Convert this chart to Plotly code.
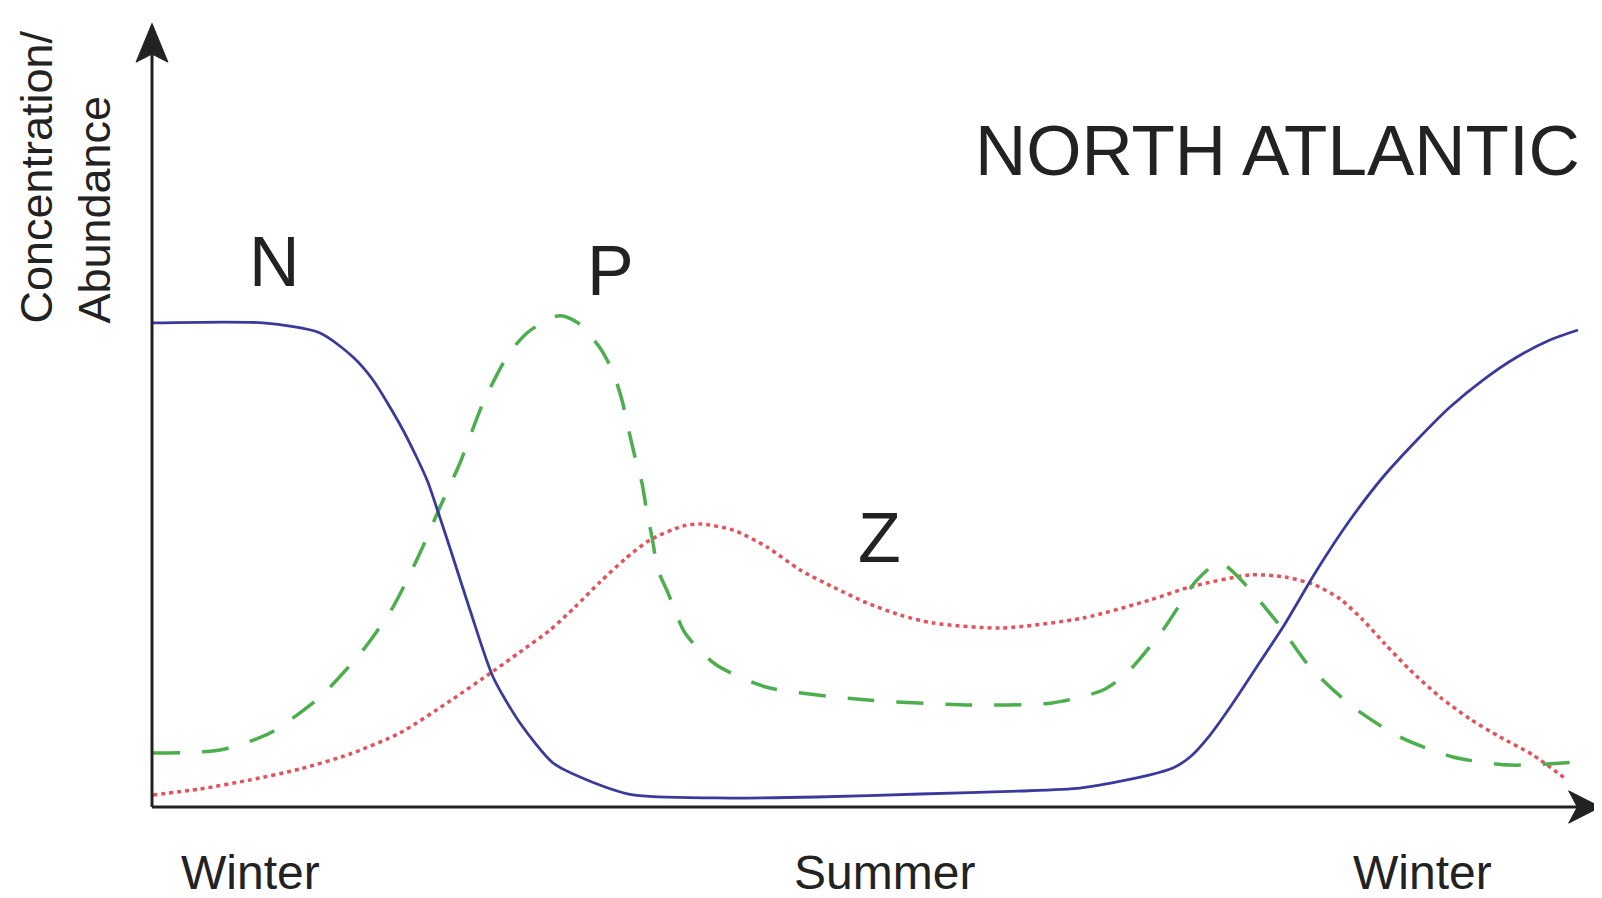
import plotly.graph_objects as go

# Time of year (0 = winter start, 100 = next winter), relative concentration/abundance
n_x = [0.07, 7.66, 11.59, 13.86, 15.24, 17.31, 18.97, 19.66, 20.55, 21.93, 23.52, 25.38, 27.66, 30.0,
       33.17, 38.83, 45.86, 52.97, 60.0, 64.0, 66.55, 68.83, 70.41, 71.59, 72.97, 74.55, 76.41, 78.0,
       80.34, 82.62, 84.9, 87.24, 89.52, 91.79, 94.14, 96.41, 98.34]
n_y = [59.98, 59.98, 58.74, 55.76, 52.91, 46.72, 40.52, 36.93, 32.09, 24.41, 16.11, 10.41, 5.45, 3.35,
       1.49, 1.12, 1.24, 1.61, 1.98, 2.35, 3.1, 3.97, 4.83, 6.2, 8.92, 12.89, 17.97, 22.3,
       29.37, 35.56, 40.89, 45.48, 49.57, 52.91, 55.76, 57.87, 59.11]

p_x = [0.07, 4.69, 8.14, 11.59, 14.55, 16.62, 18.48, 19.86, 21.24, 22.83, 24.55, 25.86, 27.66, 28.34,
       29.38, 30.9, 31.79, 32.41, 32.83, 33.31, 33.79, 34.14, 34.48, 34.9, 35.59, 36.76, 38.83, 42.34,
       49.38, 56.48, 62.07, 65.59, 67.24, 69.72, 72.07, 73.66, 77.31, 79.86, 82.83, 86.07, 89.72,
       93.66, 98.34]
p_y = [6.69, 7.06, 9.17, 13.63, 19.45, 24.78, 31.47, 37.17, 42.63, 50.06, 56.01, 58.74, 60.72, 60.84,
       59.98, 56.88, 53.9, 50.43, 47.09, 43.37, 40.15, 36.43, 33.46, 29.37, 26.52, 21.56, 17.72, 14.87,
       13.26, 12.64, 12.89, 14.5, 16.6, 21.93, 28.13, 30.24, 23.54, 17.35, 12.39, 8.67, 6.2,
       5.2, 5.58]

z_x = [0.07, 3.31, 6.76, 10.21, 13.66, 17.1, 20.55, 23.45, 25.38, 27.45, 29.17, 30.9, 32.62, 34.34,
       36.62, 37.79, 40.07, 42.41, 44.69, 46.97, 49.31, 51.59, 53.86, 58.55, 64.21, 68.83, 71.59, 75.72,
       78.14, 80.21, 81.93, 83.45, 85.03, 86.76, 88.83, 90.9, 92.97, 95.24, 97.59]
z_y = [1.49, 2.23, 3.35, 4.71, 6.57, 9.17, 13.14, 16.73, 19.21, 21.93, 24.78, 27.88, 30.73, 33.09,
       34.82, 35.07, 34.32, 32.22, 29.37, 27.26, 25.28, 23.79, 22.8, 22.18, 23.42, 25.65, 27.26, 28.75,
       28.5, 27.51, 25.77, 23.3, 20.2, 16.98, 13.63, 10.9, 8.67, 6.44, 3.35]

season_labels = ["Winter", "Summer", "Winter"]
season_pos = [0.0999, 0.5226, 0.8802]   # paper fraction

FONT = "Liberation Sans, Arial, Helvetica, sans-serif"
TXT = "#222222"

fig = go.Figure()
fig.add_trace(go.Scatter(x=z_x, y=z_y, mode="lines",
                         line=dict(color="#e5525c", width=3.5, dash="4px,4px", shape="spline", smoothing=0.7)))
fig.add_trace(go.Scatter(x=p_x, y=p_y, mode="lines",
                         line=dict(color="#4cae4c", width=3.5, dash="27px,22px", shape="spline", smoothing=0.7)))
fig.add_trace(go.Scatter(x=n_x, y=n_y, mode="lines",
                         line=dict(color="#3a3a9c", width=2.8, shape="spline", smoothing=0.7)))

# axes with arrows
shapes = [
    dict(type="line", xref="x", yref="y", x0=0, x1=98.5, y0=0, y1=0, line=dict(color=TXT, width=3)),
    dict(type="line", xref="x", yref="y", x0=0, x1=0, y0=0, y1=94, line=dict(color=TXT, width=3)),
    dict(type="path", xref="x", yref="y", fillcolor=TXT, line=dict(color=TXT, width=1),
         path="M 0,97.1 L 1.1,92.3 L 0,93.3 L -1.1,92.3 Z"),
    dict(type="path", xref="x", yref="y", fillcolor=TXT, line=dict(color=TXT, width=1),
         path="M 99.9,0 L 97.7,2.0 L 98.3,0 L 97.7,-2.0 Z"),
]

ann = [
    dict(x=8.48, y=67.5, text="N", font=dict(size=70)),
    dict(x=31.6, y=66.4, text="P", font=dict(size=70)),
    dict(x=50.2, y=33.3, text="Z", font=dict(size=70)),
    dict(x=98.65, y=81.3, text="NORTH ATLANTIC", xanchor="right", font=dict(size=71)),
]
for a in ann:
    a.update(xref="x", yref="y")
ann.append(dict(x=-0.0605, y=0.6294, xref="paper", yref="paper", text="Concentration/<br>Abundance",
                textangle=-90, xanchor="left", yanchor="bottom", align="left", font=dict(size=45)))
for lab, pos in zip(season_labels, season_pos):
    ann.append(dict(x=pos, y=-0.0075, xref="paper", yref="paper", text=lab, font=dict(size=48)))
for a in ann:
    a.setdefault("xanchor", "center")
    a.setdefault("yanchor", "middle")
    a["showarrow"] = False
    a["font"].update(family=FONT, color=TXT)

fig.update_layout(
    width=1594, height=890,
    margin=dict(l=92, r=0, t=0, b=32),
    paper_bgcolor="white", plot_bgcolor="white",
    showlegend=False,
    xaxis=dict(range=[-3.586, 100], visible=False, fixedrange=True),
    yaxis=dict(range=[-7.311, 99.008], visible=False, fixedrange=True),
    shapes=shapes, annotations=ann,
)
fig.write_html("out.html")
